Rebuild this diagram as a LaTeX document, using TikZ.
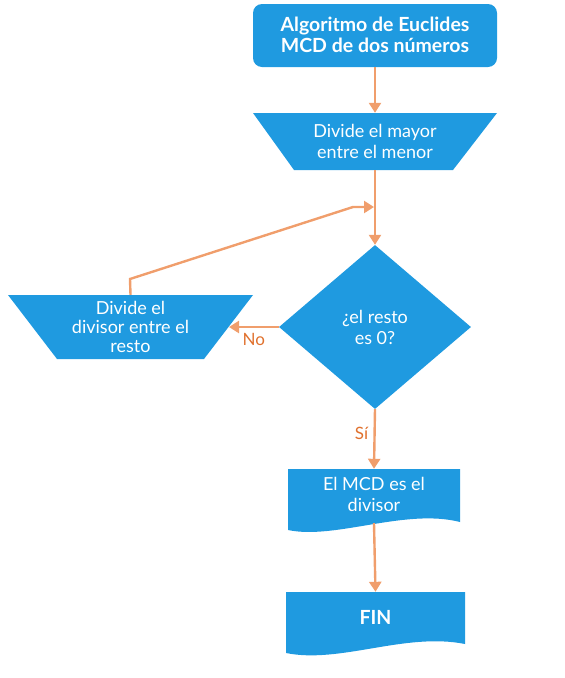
\documentclass[tikz,border=0pt]{standalone}
\usepackage{fontspec}
\setmainfont{Lato}
\usetikzlibrary{arrows.meta,shapes.geometric}
\definecolor{boxblue}{HTML}{1F9AE0}
\definecolor{lineor}{HTML}{F09E6C}
\definecolor{labor}{HTML}{E0712E}
\tikzset{
  conn/.style={draw=lineor,line width=2.4pt},
  arr/.style={conn,-{Triangle[length=10pt,width=12pt]}},
  lbl/.style={text=white,font=\fontsize{18}{21}\selectfont,align=center},
  hold/.style={inner sep=0pt,rectangle},
  ylab/.style={text=labor,font=\fontsize{17}{19}\selectfont},
}
\begin{document}
\begin{tikzpicture}[x=1pt,y=-1pt]
\useasboundingbox (0,0) rectangle (565,678);
% start
\fill[boxblue,rounded corners=9pt] (253,4) rectangle (497,67);
\node[hold,minimum width=244pt,minimum height=63pt] (start) at (375,35.5) {};
\node[lbl,font=\bfseries\fontsize{19.5}{21}\selectfont,inner sep=0pt] (startt) at (375,34.5) {Algoritmo de Euclides\\MCD de dos números};
% trapezoid 1
\fill[boxblue] (253,113) -- (497,113) -- (453,170) -- (294,170) -- cycle;
\node[hold,minimum width=244pt,minimum height=57pt,lbl] (t1) at (375,141.5) {Divide el mayor\\entre el menor};
% diamond
\node[diamond,fill=boxblue,minimum width=192pt,minimum height=164pt,inner sep=0pt,aspect=1.17,lbl] (dec) at (375,327) {¿el resto\\es 0?};
% trapezoid 2
\fill[boxblue] (8,295) -- (253,295) -- (204,359) -- (57,359) -- cycle;
\node[hold,minimum width=245pt,minimum height=64pt,lbl,font=\fontsize{18}{19}\selectfont] (t2) at (130.5,327) {Divide el\\divisor entre el\\resto};
\coordinate (t2e) at (229,327);
% document 1
\fill[boxblue] (288,469) -- (460,469) -- (460,522) .. controls (405,508) and (335,540) .. (288,530) -- cycle;
\node[hold,minimum width=172pt,minimum height=54pt] (d1) at (374,496) {};
\node[lbl,inner sep=0pt] (d1t) at (374,494.5) {El MCD es el\\divisor};
% document 2
\fill[boxblue] (286,592) -- (465,592) -- (465,644) .. controls (405,632) and (340,664) .. (286,653) -- cycle;
\node[hold,minimum width=179pt,minimum height=50pt,lbl,font=\bfseries\fontsize{19.5}{21}\selectfont] (d2) at (375.5,617) {FIN};
% connectors
\draw[arr] (start.south) -- (t1.north);
\draw[arr] (t1.south) -- (dec.north);
\draw[arr] (dec.west) -- node[ylab,below=2pt] (no) {No} (t2e);
\draw[arr] (dec.south) -- node[ylab,left=2pt,pos=0.4] (si) {Sí} (d1.north);
\coordinate (loopend) at (374,207);
\draw[arr] (t2.north) -- (130,279) -- (353,207) -- (loopend);
\draw[arr] (d1.south) -- (d2.north);
\end{tikzpicture}
\end{document}
